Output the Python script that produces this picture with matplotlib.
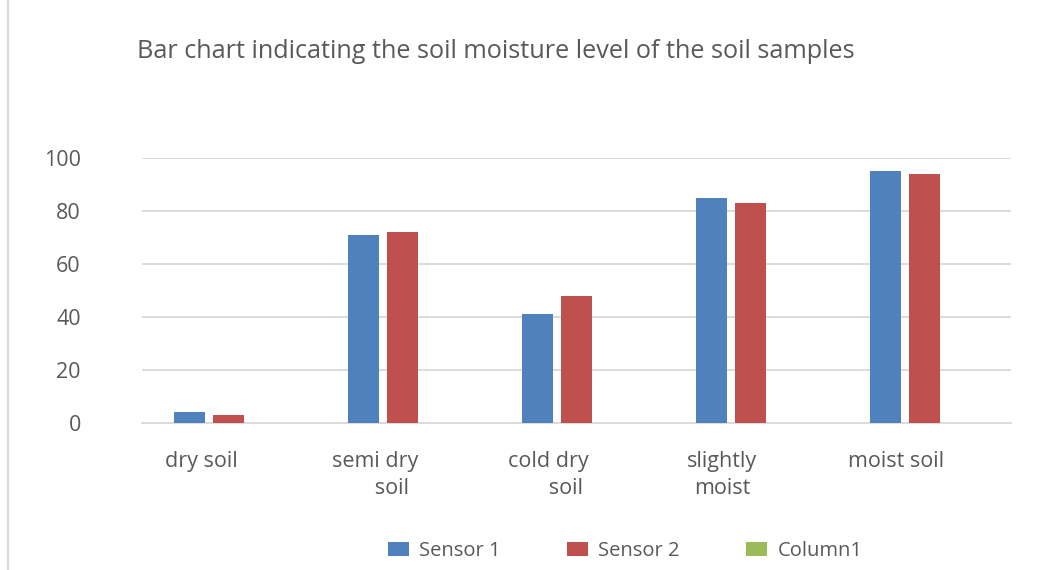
import numpy as np
import matplotlib.pyplot as plt
from matplotlib.lines import Line2D
from matplotlib.transforms import ScaledTranslation

categories = ["dry soil", "semi dry\n      soil", "cold dry\n      soil", "slightly\nmoist", "moist soil"]
sensor1 = [4, 71, 41, 85, 95]
sensor2 = [3, 72, 48, 83, 94]
column1 = [0, 0, 0, 0, 0]
series_names = ["Sensor 1", "Sensor 2", "Column1"]
colors = ["#4F81BD", "#C0504D", "#9BBB59"]

txt = "#595959"
grid_c = "#D9D9D9"
plt.rcParams['font.family'] = ['Open Sans', 'DejaVu Sans']

fig = plt.figure(figsize=(10.5, 5.7), dpi=100)
ax = fig.add_axes([0.1352, 0.2579, 0.963 - 0.1352, 0.7228 - 0.2579])

x = np.arange(len(categories))
w = 0.178
step = 0.224
for i, (vals, name, c) in enumerate(zip([sensor1, sensor2, column1], series_names, colors)):
    ax.bar(x + (i - 1) * step, vals, width=w, color=c, label=name, zorder=3)

ax.set_xlim(-0.5, len(categories) - 0.5)
ax.set_ylim(0, 100)
ax.set_yticks(range(0, 101, 20))
ax.yaxis.grid(True, color=grid_c, linewidth=1.3, zorder=0)
for s in ["top", "right", "left"]:
    ax.spines[s].set_visible(False)
ax.spines["bottom"].set_color(grid_c)
ax.spines["bottom"].set_linewidth(1.3)
ax.tick_params(axis="both", length=0, labelsize=15.5, labelcolor=txt)
ax.tick_params(axis="y", pad=44)
ax.tick_params(axis="x", pad=20)
ax.set_xticks(x)
ax.set_xticklabels(categories, linespacing=1.4)
off = ScaledTranslation(-28 / 100, 0, fig.dpi_scale_trans)
for lab in ax.get_xticklabels():
    lab.set_transform(lab.get_transform() + off)
    lab.set_multialignment("center")

fig.text(496 / 1050, 1 - 52 / 570, "Bar chart indicating the soil moisture level of the soil samples",
         ha="center", va="center", fontsize=18.2, color=txt)

leg = fig.legend(loc="center", bbox_to_anchor=(625 / 1050, 1 - 551 / 570), ncol=3, frameon=False,
                 fontsize=14.5, handlelength=1.05, handleheight=0.75, columnspacing=3.3, handletextpad=0.5)
for t in leg.get_texts():
    t.set_color(txt)

fig.add_artist(Line2D([8 / 1050, 8 / 1050], [0, 1], color=grid_c, linewidth=1.5, transform=fig.transFigure))

fig.savefig("out.png", dpi=100)
